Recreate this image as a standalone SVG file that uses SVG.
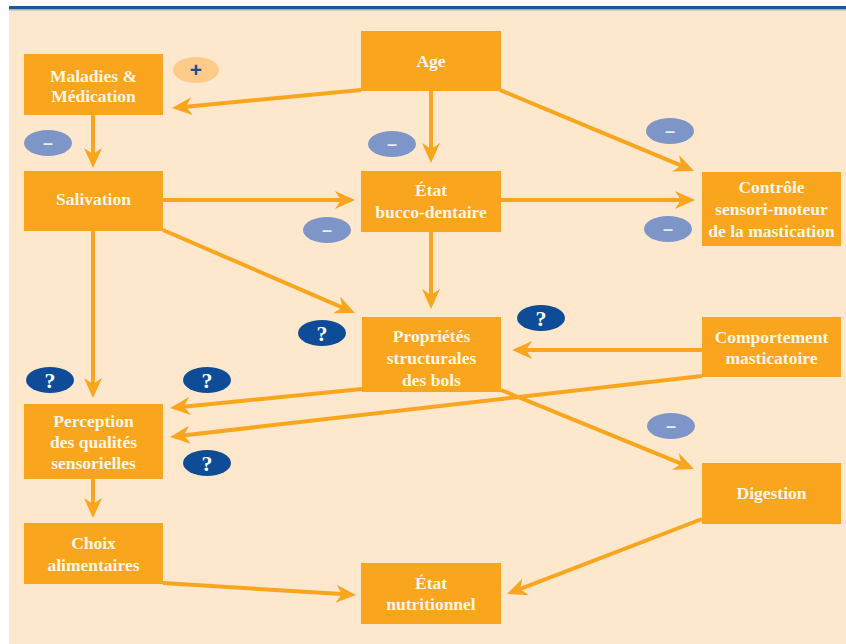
<svg xmlns="http://www.w3.org/2000/svg" width="846" height="644" viewBox="0 0 846 644">
<style>
.bx{fill:#F9A51D}
.t{font-family:"Liberation Serif","DejaVu Serif",serif;font-weight:bold;font-size:17.5px;fill:#FFF6E6;text-anchor:middle}
.qt{font-family:"Liberation Serif","DejaVu Serif",serif;font-weight:bold;font-size:22px;fill:#FFFFFF;text-anchor:middle}
.c{fill:none;stroke:#F9A51D;stroke-width:4}
.neg{fill:#7E95C8}
.q{fill:#0E4C98}
.bt{font-family:"Liberation Sans","DejaVu Sans",sans-serif;font-weight:bold;text-anchor:middle}
</style>
<defs>
<marker id="ah" markerUnits="userSpaceOnUse" markerWidth="30" markerHeight="30" viewBox="-15 -15 30 30" refX="0" refY="0" orient="auto">
<path d="M-14,-9 L6,0 L-14,9 L-8,0 z" fill="#F9A51D"/>
</marker>
</defs>
<rect x="0" y="0" width="846" height="644" fill="#FFFFFF"/>
<rect x="9" y="9" width="837" height="635" fill="#FEE8CD"/>
<rect x="9" y="6" width="837" height="3" fill="#1B5A96"/>
<rect x="9" y="9" width="837" height="1.5" fill="#9DB3C9"/>

<g id="connectors">
<path class="c" d="M361,90 L178,107.5" marker-end="url(#ah)"/>
<path class="c" d="M93,115 L93,162" marker-end="url(#ah)"/>
<path class="c" d="M431,91 L431,157" marker-end="url(#ah)"/>
<path class="c" d="M500,90 L688.5,168.7" marker-end="url(#ah)"/>
<path class="c" d="M163,200 L349,200" marker-end="url(#ah)"/>
<path class="c" d="M501,200 L689,200" marker-end="url(#ah)"/>
<path class="c" d="M163,230 L349.5,310.6" marker-end="url(#ah)"/>
<path class="c" d="M431,232 L431,303" marker-end="url(#ah)"/>
<path class="c" d="M702,350 L518,350" marker-end="url(#ah)"/>
<path class="c" d="M93,231 L93,392" marker-end="url(#ah)"/>
<path class="c" d="M362,389 L176,407.4" marker-end="url(#ah)"/>
<path class="c" d="M702,376 L176,436.3" marker-end="url(#ah)"/>
<path class="c" d="M501,390 L688.4,466.7" marker-end="url(#ah)"/>
<path class="c" d="M93,479 L93,512" marker-end="url(#ah)"/>
<path class="c" d="M163,583 L350,594.6" marker-end="url(#ah)"/>
<path class="c" d="M702,519 L512.6,591.8" marker-end="url(#ah)"/>
</g>

<g id="maladies"><rect class="bx" x="24" y="54" width="139" height="61"/><text class="t" x="93.5" y="82">Maladies &amp;</text><text class="t" x="93.5" y="102">Médication</text></g>
<g id="age"><rect class="bx" x="361" y="31" width="140" height="60"/><text class="t" x="431" y="67">Age</text></g>
<g id="salivation"><rect class="bx" x="24" y="171" width="139" height="60"/><text class="t" x="93.5" y="205">Salivation</text></g>
<g id="etat-bucco"><rect class="bx" x="361" y="171" width="140" height="61"/><text class="t" x="431" y="196">État</text><text class="t" x="431" y="218">bucco-dentaire</text></g>
<g id="controle"><rect class="bx" x="702" y="172" width="139" height="74"/><text class="t" x="771.5" y="193">Contrôle</text><text class="t" x="771.5" y="215">sensori-moteur</text><text class="t" x="771.5" y="237">de la mastication</text></g>
<g id="proprietes"><rect class="bx" x="362" y="317" width="139" height="75"/><text class="t" x="431.5" y="342">Propriétés</text><text class="t" x="431.5" y="364">structurales</text><text class="t" x="431.5" y="386">des bols</text></g>
<g id="comportement"><rect class="bx" x="702" y="317" width="139" height="60"/><text class="t" x="771.5" y="343">Comportement</text><text class="t" x="771.5" y="364">masticatoire</text></g>
<g id="perception"><rect class="bx" x="24" y="404" width="139" height="75"/><text class="t" x="93.5" y="427">Perception</text><text class="t" x="93.5" y="448">des qualités</text><text class="t" x="93.5" y="469">sensorielles</text></g>
<g id="digestion"><rect class="bx" x="702" y="463" width="139" height="61"/><text class="t" x="771.5" y="499">Digestion</text></g>
<g id="choix"><rect class="bx" x="24" y="523" width="139" height="61"/><text class="t" x="93.5" y="549">Choix</text><text class="t" x="93.5" y="571">alimentaires</text></g>
<g id="etat-nutri"><rect class="bx" x="361" y="563" width="140" height="61"/><text class="t" x="431" y="589">État</text><text class="t" x="431" y="610">nutritionnel</text></g>

<g id="badges">
<ellipse cx="196" cy="70" rx="23" ry="13" fill="#FDCB89"/><text class="bt" x="196" y="77" font-size="21" fill="#1F4E8C">+</text>
<ellipse class="neg" cx="48" cy="143" rx="24" ry="13"/><text class="bt" x="48" y="149" font-size="18" fill="#E8ECF8">–</text>
<ellipse class="neg" cx="392" cy="144" rx="24" ry="13"/><text class="bt" x="392" y="150" font-size="18" fill="#E8ECF8">–</text>
<ellipse class="neg" cx="670" cy="131" rx="24" ry="13"/><text class="bt" x="670" y="137" font-size="18" fill="#E8ECF8">–</text>
<ellipse class="neg" cx="327" cy="230" rx="24" ry="13"/><text class="bt" x="327" y="236" font-size="18" fill="#E8ECF8">–</text>
<ellipse class="neg" cx="668" cy="229" rx="24" ry="13"/><text class="bt" x="668" y="235" font-size="18" fill="#E8ECF8">–</text>
<ellipse class="neg" cx="671" cy="426" rx="24" ry="13"/><text class="bt" x="671" y="432" font-size="18" fill="#E8ECF8">–</text>
<ellipse class="q" cx="322" cy="333" rx="24" ry="13"/><text class="qt" x="322" y="341">?</text>
<ellipse class="q" cx="541" cy="318" rx="24" ry="13"/><text class="qt" x="541" y="326">?</text>
<ellipse class="q" cx="50" cy="380" rx="24" ry="13"/><text class="qt" x="50" y="388">?</text>
<ellipse class="q" cx="207" cy="380" rx="24" ry="13"/><text class="qt" x="207" y="388">?</text>
<ellipse class="q" cx="207" cy="463" rx="24" ry="13"/><text class="qt" x="207" y="471">?</text>
</g>
</svg>
